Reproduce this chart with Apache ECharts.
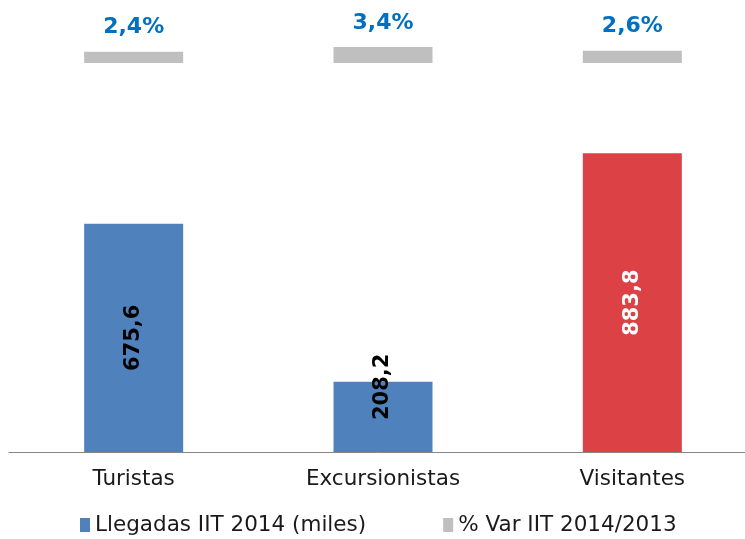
<!DOCTYPE html>
<html>
<head>
<meta charset="utf-8">
<script src="https://cdn.jsdelivr.net/npm/echarts@6/dist/echarts.min.js"></script>
<style>html,body{margin:0;padding:0;background:#fff;}#c{width:745px;height:539px;}</style>
</head>
<body>
<div id="c"></div>
<script>
const categories = ['Turistas', 'Excursionistas', 'Visitantes'];
const llegadas = [675.6, 208.2, 883.8];
const variacion = [2.4, 3.4, 2.6];
const seriesNames = ['Llegadas IIT 2014 (miles)', '% Var IIT 2014/2013'];

const FONT = 'DejaVu Sans';
const fmt = v => String(v.toFixed(1)).replace('.', ',');

const chart = echarts.init(document.getElementById('c'));
chart.setOption({
  animation: false,
  backgroundColor: '#ffffff',
  textStyle: { fontFamily: FONT },
  legend: {
    data: seriesNames,
    left: 75,
    top: 509,
    icon: 'rect',
    itemWidth: 10,
    itemHeight: 14,
    itemGap: 77,
    textStyle: { fontFamily: FONT, fontSize: 21.5, color: '#1a1a1a' }
  },
  grid: [
    { left: 9, width: 748, top: 114, bottom: 87, outerBoundsMode: 'none', containLabel: false },
    { left: 9, width: 748, top: 16, bottom: 476, outerBoundsMode: 'none', containLabel: false }
  ],
  xAxis: [
    {
      type: 'category', gridIndex: 0, data: categories,
      axisLine: { show: true, lineStyle: { color: '#868686', width: 1 } },
      axisTick: { show: false },
      axisLabel: { margin: 16, fontFamily: FONT, fontSize: 21.5, color: '#1a1a1a' }
    },
    {
      type: 'category', gridIndex: 1, data: categories,
      axisLine: { show: false }, axisTick: { show: false }, axisLabel: { show: false }
    }
  ],
  yAxis: [
    { type: 'value', gridIndex: 0, min: 0, max: 1000, show: false, splitLine: { show: false } },
    { type: 'value', gridIndex: 1, min: 0, max: 10, show: false, splitLine: { show: false } }
  ],
  series: [
    {
      name: seriesNames[0], type: 'bar', xAxisIndex: 0, yAxisIndex: 0,
      barWidth: 99,
      itemStyle: { color: '#4f81bd' },
      data: llegadas.map((v, i) => {
        const d = { value: v };
        if (i === 2) {
          d.itemStyle = { color: '#dc4146' };
          d.label = { color: '#ffffff' };
        }
        if (i === 1) {
          d.label = { offset: [30, 0] };
        }
        return d;
      }),
      label: {
        show: true, position: 'inside', rotate: 90,
        fontFamily: FONT, fontSize: 21, fontWeight: 'bold', color: '#000000',
        formatter: p => fmt(p.value)
      }
    },
    {
      name: seriesNames[1], type: 'bar', xAxisIndex: 1, yAxisIndex: 1,
      barWidth: 99,
      itemStyle: { color: '#bfbfbf' },
      data: variacion,
      label: {
        show: true, position: 'top', distance: 13,
        fontFamily: FONT, fontSize: 22, fontWeight: 'bold', color: '#0070c0',
        formatter: p => fmt(p.value) + '%'
      }
    }
  ]
});
</script>
</body>
</html>
